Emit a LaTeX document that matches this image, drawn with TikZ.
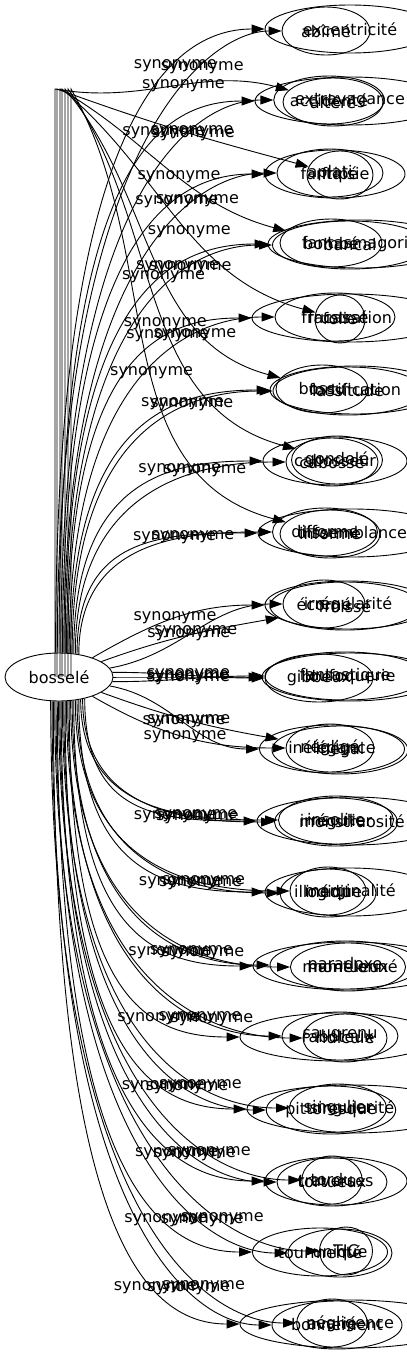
\documentclass[tikz,border=0pt]{standalone}
\usepackage{fontspec}
\setmainfont{DejaVu Sans}
\usetikzlibrary{arrows.meta, shapes.geometric}

\begin{document}
\begin{tikzpicture}[x=1pt, y=-1pt,
            every node/.style={font=\fontsize{16}{19}\selectfont}]
        \tikzstyle{word}=[ellipse, draw, line width=0.9pt, inner sep=0pt, minimum height=48pt]
        \tikzstyle{edge}=[line width=0.9pt, -{Triangle[length=13pt, width=9pt]}]
        \tikzstyle{lbl}=[inner sep=1pt]
        \useasboundingbox (0,0) rectangle (407,1355);
        \clip (0,0) rectangle (407,1355);

        \node[word, minimum width=108pt] (b) at (59,677) {bosselé};

        % rangs de mots
        \node[word, minimum width=170pt] (n1a) at (350,29) {excentricité};
        \node[word, minimum width=88pt] (n1b) at (326,31) {abîmé};

        \node[word, minimum width=190pt] (n2a) at (350,101) {extravagance};
        \node[word, minimum width=108pt] (n2b) at (329,100) {accidenté};
        \node[word, minimum width=100pt] (n2c) at (333,102) {altéré};

        \node[word, minimum width=140pt] (n3a) at (335,174) {fantaisie};
        \node[word, minimum width=106pt] (n3b) at (330,173) {aplati};
        \node[word, minimum width=66pt] (n3c) at (340,175) {fripé};

        \node[word, minimum width=184pt] (n4a) at (360,244) {fantasmagorie};
        \node[word, minimum width=155pt] (n4b) at (350,245) {bancal};
        \node[word, minimum width=102pt] (n4c) at (331,243) {bombé};

        \node[word, minimum width=196pt] (n5a) at (350,318) {frustration};
        \node[word, minimum width=120pt] (n5b) at (335,317) {fracassé};
        \node[word, minimum width=50pt] (n5c) at (340,319) {folie};

        \node[word, minimum width=170pt] (n6a) at (355,390) {fortification};
        \node[word, minimum width=150pt] (n6b) at (348,391) {lassitude};
        \node[word, minimum width=92pt] (n6c) at (322,389) {bossu};

        \node[word, minimum width=144pt] (n7a) at (335,461) {cabosseur};
        \node[word, minimum width=89pt] (n7b) at (332,462) {cabossé};
        \node[word, minimum width=76pt] (n7c) at (337,460) {gondolé};

        \node[word, minimum width=188pt] (n8a) at (352,533) {dissemblance};
        \node[word, minimum width=105pt] (n8b) at (325,532) {difforme};
        \node[word, minimum width=100pt] (n8c) at (330,534) {informe};

        \node[word, minimum width=166pt] (n9a) at (348,605) {irrégularité};
        \node[word, minimum width=150pt] (n9b) at (345,606) {froissé};
        \node[word, minimum width=82pt] (n9c) at (324,604) {écorné};

        \node[word, minimum width=176pt] (n10a) at (350,677) {loufoquerie};
        \node[word, minimum width=108pt] (n10b) at (319,678) {gibbeux};
        \node[word, minimum width=160pt] (n10c) at (345,676) {fantastique};

        \node[word, minimum width=145pt] (n11a) at (332,749) {inélégance};
        \node[word, minimum width=136pt] (n11b) at (340,750) {inégal};
        \node[word, minimum width=88pt] (n11c) at (330,748) {négligé};

        \node[word, minimum width=190pt] (n12a) at (352,821) {monstruosité};
        \node[word, minimum width=123pt] (n12b) at (336,822) {irrégulier};
        \node[word, minimum width=115pt] (n12c) at (336,820) {insolite};

        \node[word, minimum width=170pt] (n13a) at (350,892) {marginalité};
        \node[word, minimum width=82pt] (n13b) at (328,893) {illogique};
        \node[word, minimum width=76pt] (n13c) at (328,891) {inédit};

        \node[word, minimum width=194pt] (n14a) at (350,966) {mamelonné};
        \node[word, minimum width=150pt] (n14b) at (345,965) {paradoxe};
        \node[word, minimum width=103pt] (n14c) at (348,967) {montueux};

        \node[word, minimum width=196pt] (n15a) at (338,1037) {raboteux};
        \node[word, minimum width=116pt] (n15b) at (340,1036) {saugrenu};
        \node[word, minimum width=84pt] (n15c) at (345,1038) {ridicule};

        \node[word, minimum width=210pt] (n16a) at (352,1109) {singularité};
        \node[word, minimum width=128pt] (n16b) at (331,1110) {pittoresque};
        \node[word, minimum width=97pt] (n16c) at (338,1108) {singulier};

        \node[word, minimum width=142pt] (n17a) at (336,1181) {traverses};
        \node[word, minimum width=110pt] (n17b) at (332,1182) {tortueux};
        \node[word, minimum width=51pt] (n17c) at (332,1180) {tordu};

        \node[word, minimum width=135pt] (n18a) at (320,1252) {tourmenté};
        \node[word, minimum width=104pt] (n18b) at (340,1253) {unique};
        \node[word, minimum width=53pt] (n18c) at (346,1251) {TIC};

        \node[word, minimum width=220pt] (n19a) at (350,1324) {négligence};
        \node[word, minimum width=121pt] (n19b) at (337,1325) {bonnement};
        \node[word, minimum width=51pt] (n19c) at (332,1323) {avarié};

        % vers le haut
        \foreach \t/\ty/\s/\d in {n1a/29/98/100, n1b/31/94/70, n2a/101/90/110, n2b/100/86/80,
                n3a/174/82/100, n3b/173/79/75, n4a/244/76/105, n4b/245/73/85,
                n5a/318/70/100, n5b/317/67/80, n6a/390/64/100, n6b/391/61/85,
                n7a/461/58/95, n7b/462/55/80, n8a/533/52/100, n8b/532/49/85} {
            \pgfmathsetmacro\od{0.8*(677-\ty)}
            \draw[edge] (b.\s) to[out=90, in=180, out distance=\od pt, in distance=\d pt]
                node[lbl, pos=0.7] {synonyme} (\t);
        }
        \foreach \t/\x/\o in {n2c/55/-10, n3c/57/-20, n4c/60/-30, n5c/62/-40,
                n6c/65/-50, n7c/68/-55, n8c/71/-60} {
            \draw[edge] (b.center -| \x,0) -- (\x,89) to[out=\o, in=165]
                node[lbl, pos=0.55] {synonyme} (\t);
        }

        % au milieu
        \foreach \t/\s/\o/\i in {n9a/30/30/180, n9b/20/20/190, n9c/10/10/180,
                n10a/0/0/180, n10b/5/0/180, n10c/355/0/180,
                n11a/350/-10/180, n11b/340/-20/170, n11c/330/-30/180} {
            \draw[edge] (b.\s) to[out=\o, in=\i] node[lbl, pos=0.5] {synonyme} (\t);
        }

        % vers le bas
        \foreach \t/\ty/\s/\d in {n12a/821/320/100, n12b/822/317/80, n12c/820/314/90,
                n13a/892/311/100, n13b/893/308/80, n13c/891/305/90,
                n14a/966/302/100, n14b/965/299/80, n14c/967/296/90,
                n15a/1037/293/100, n15b/1036/290/80, n15c/1038/287/90,
                n16a/1109/284/100, n16b/1110/281/80, n16c/1108/278/90,
                n17a/1181/275/100, n17b/1182/272/80, n17c/1180/269/90,
                n18a/1252/266/100, n18b/1253/263/80, n18c/1251/260/90,
                n19a/1324/257/100, n19b/1325/254/80, n19c/1323/251/90} {
            \pgfmathsetmacro\od{0.8*(\ty-677)}
            \draw[edge] (b.\s) to[out=-90, in=180, out distance=\od pt, in distance=\d pt]
                node[lbl, pos=0.7] {synonyme} (\t);
        }
    \end{tikzpicture}
\end{document}
